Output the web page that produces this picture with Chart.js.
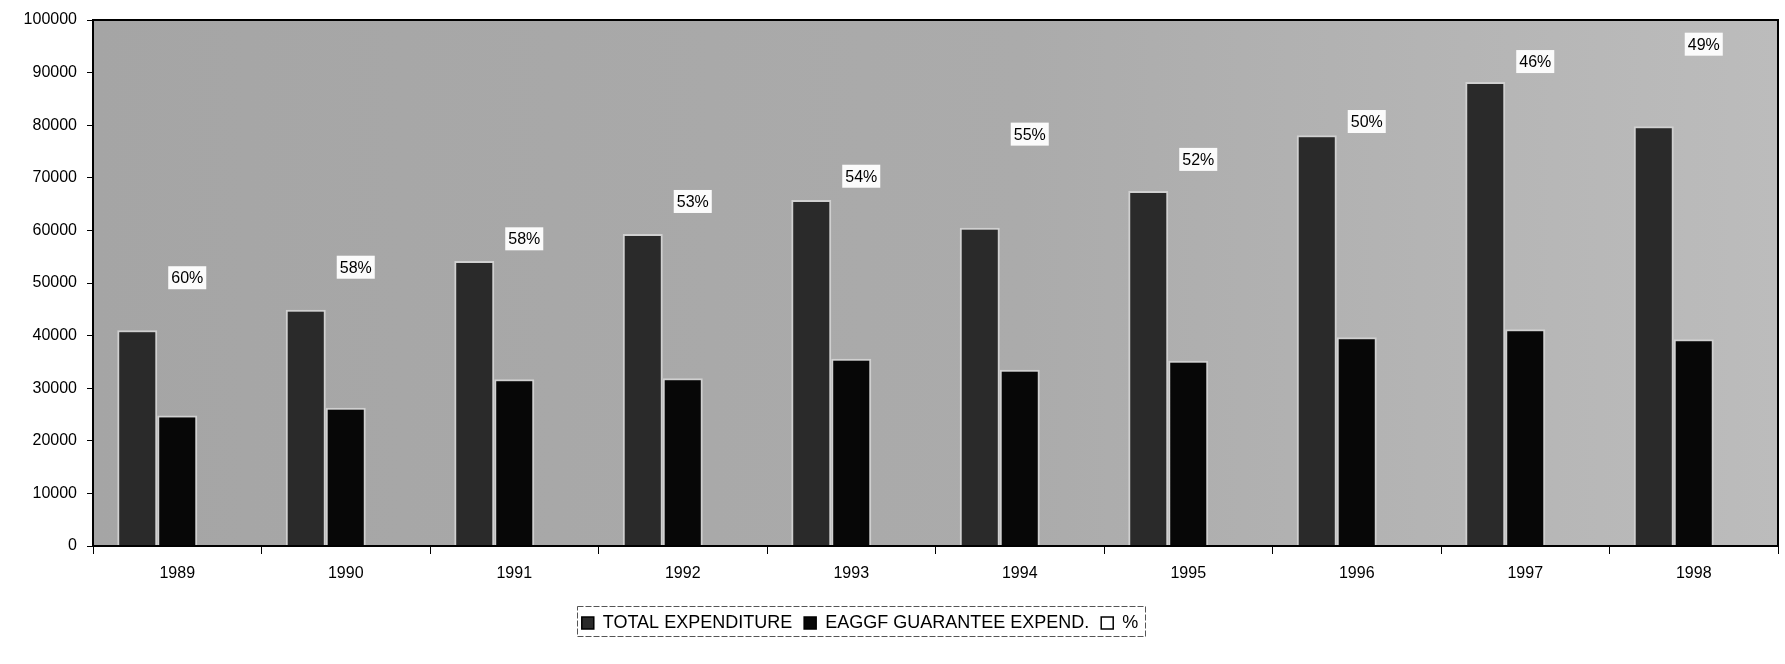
<!DOCTYPE html>
<html>
<head>
<meta charset="utf-8">
<script src="https://cdn.jsdelivr.net/npm/chart.js@4"></script>
<style>
  html, body { margin: 0; padding: 0; background: #ffffff; }
  #wrap { width: 1785px; height: 664px; position: relative; }
</style>
</head>
<body>
<div id="wrap"><canvas id="c" width="1785" height="664"></canvas></div>
<script>
// ---- data ----
const years = ['1989','1990','1991','1992','1993','1994','1995','1996','1997','1998'];
const totalExpenditure = [41000, 44900, 54200, 59300, 65800, 60500, 67500, 78100, 88200, 79800];
const eaggfGuarantee   = [24800, 26300, 31700, 31900, 35600, 33500, 35200, 39700, 41200, 39300];
const percentShare     = [60, 58, 58, 53, 54, 55, 52, 50, 46, 49];
// heights (in axis units) at which the % data labels sit in the reference
const percentLabelLevel = [51000, 53000, 58400, 65500, 70300, 78300, 73500, 80700, 92100, 95400];
const yTicks = [0, 10000, 20000, 30000, 40000, 50000, 60000, 70000, 80000, 90000, 100000];

const FONT = "'Liberation Sans', Arial, 'DejaVu Sans', sans-serif";

const plotBackground = {
  id: 'plotBackground',
  beforeDatasetsDraw(chart) {
    const {ctx, chartArea: a} = chart;
    ctx.save();
    const g = ctx.createLinearGradient(a.left, 0, a.right, 0);
    g.addColorStop(0, '#a5a5a5');
    g.addColorStop(0.55, '#ababab');
    g.addColorStop(1, '#bcbcbc');
    ctx.fillStyle = g;
    ctx.fillRect(a.left, a.top, a.right - a.left, a.bottom - a.top);
    ctx.restore();
  },
  afterDatasetsDraw(chart) {
    const {ctx, chartArea: a} = chart;
    ctx.save();
    ctx.strokeStyle = '#000';
    ctx.lineWidth = 2;
    ctx.strokeRect(a.left, a.top, a.right - a.left, a.bottom - a.top);
    ctx.restore();
  }
};

const percentLabels = {
  id: 'percentLabels',
  afterDatasetsDraw(chart) {
    const {ctx} = chart;
    const xs = chart.scales.x, ys = chart.scales.y;
    ctx.save();
    ctx.font = '16px ' + FONT;
    ctx.textAlign = 'center';
    ctx.textBaseline = 'middle';
    percentShare.forEach((p, i) => {
      const txt = p + '%';
      const x = xs.getPixelForValue(i) + 10;
      const y = ys.getPixelForValue(percentLabelLevel[i]);
      const w = ctx.measureText(txt).width + 6;
      const h = 23;
      ctx.fillStyle = '#fbfbfb';
      ctx.fillRect(x - w / 2, y - h / 2, w, h);
      ctx.fillStyle = '#000';
      ctx.fillText(txt, x, y + 1);
    });
    ctx.restore();
  }
};

const legendShift = {
  id: 'legendShift',
  afterLayout(chart) {
    const lg = chart.legend;
    lg.left -= 29; lg.right -= 29;
  },
  afterDraw(chart) {
    const lg = chart.legend;
    const pad = lg.options.labels.padding;
    const start = (lg.left + pad + lg.right - lg.lineWidths[0]) / 2;
    const end = start + lg.lineWidths[0] - pad;
    const {ctx} = chart;
    const top = lg.top + pad;
    ctx.save();
    ctx.strokeStyle = '#555';
    ctx.lineWidth = 1;
    ctx.setLineDash([6, 2]);
    ctx.strokeRect(Math.round(start - 5) + 0.5, Math.round(top - 8) + 0.5, Math.round(end - start + 12), 30);
    ctx.restore();
  }
};

new Chart(document.getElementById('c'), {
  type: 'bar',
  data: {
    labels: years,
    datasets: [
      {
        label: 'TOTAL EXPENDITURE',
        data: totalExpenditure,
        backgroundColor: '#2a2a2a',
        borderColor: '#d0d0d0',
        borderWidth: 2,
        borderSkipped: 'start'
      },
      {
        label: 'EAGGF GUARANTEE EXPEND.',
        data: eaggfGuarantee,
        backgroundColor: '#070707',
        borderColor: '#d0d0d0',
        borderWidth: 2,
        borderSkipped: 'start'
      },
      {
        label: '%',
        data: percentShare,
        backgroundColor: 'rgba(255,255,255,0)',
        borderWidth: 0
      }
    ]
  },
  options: {
    responsive: false,
    animation: false,
    devicePixelRatio: 1,
    layout: { padding: { top: 20, right: 7, left: 0, bottom: 22 } },
    datasets: { bar: { categoryPercentage: 0.712, barPercentage: 1.0 } },
    plugins: {
      tooltip: { enabled: false },
      legend: {
        position: 'bottom',
        labels: {
          color: '#000',
          font: { family: FONT, size: 18 },
          boxWidth: 12,
          boxHeight: 12,
          padding: 12,
          generateLabels(chart) {
            const items = Chart.defaults.plugins.legend.labels.generateLabels(chart);
            items.forEach((it, i) => {
              it.lineWidth = 1.5;
              it.strokeStyle = '#000';
              if (i === 0) it.fillStyle = '#2a2a2a';
              if (i === 1) it.fillStyle = '#070707';
              if (i === 2) it.fillStyle = '#ffffff';
            });
            return items;
          }
        }
      }
    },
    scales: {
      x: {
        offset: true,
        grid: { display: true, offset: true, drawOnChartArea: false, drawTicks: true, tickLength: 8, color: '#000', lineWidth: 1 },
        border: { display: true, color: '#000', width: 2 },
        ticks: { color: '#000', font: { family: FONT, size: 16 }, padding: 10 },
        afterFit(s) { s.height = 56; }
      },
      y: {
        min: 0,
        max: 100000,
        afterBuildTicks(s) { s.ticks = yTicks.map(v => ({ value: v })); },
        grid: { display: true, drawOnChartArea: false, drawTicks: true, tickLength: 6, color: '#000', lineWidth: 1 },
        border: { display: true, color: '#000', width: 2 },
        ticks: { color: '#000', font: { family: FONT, size: 16 }, padding: 10, callback: v => String(v) },
        afterFit(s) { s.width = 93; }
      }
    }
  },
  plugins: [plotBackground, percentLabels, legendShift]
});
</script>
</body>
</html>
